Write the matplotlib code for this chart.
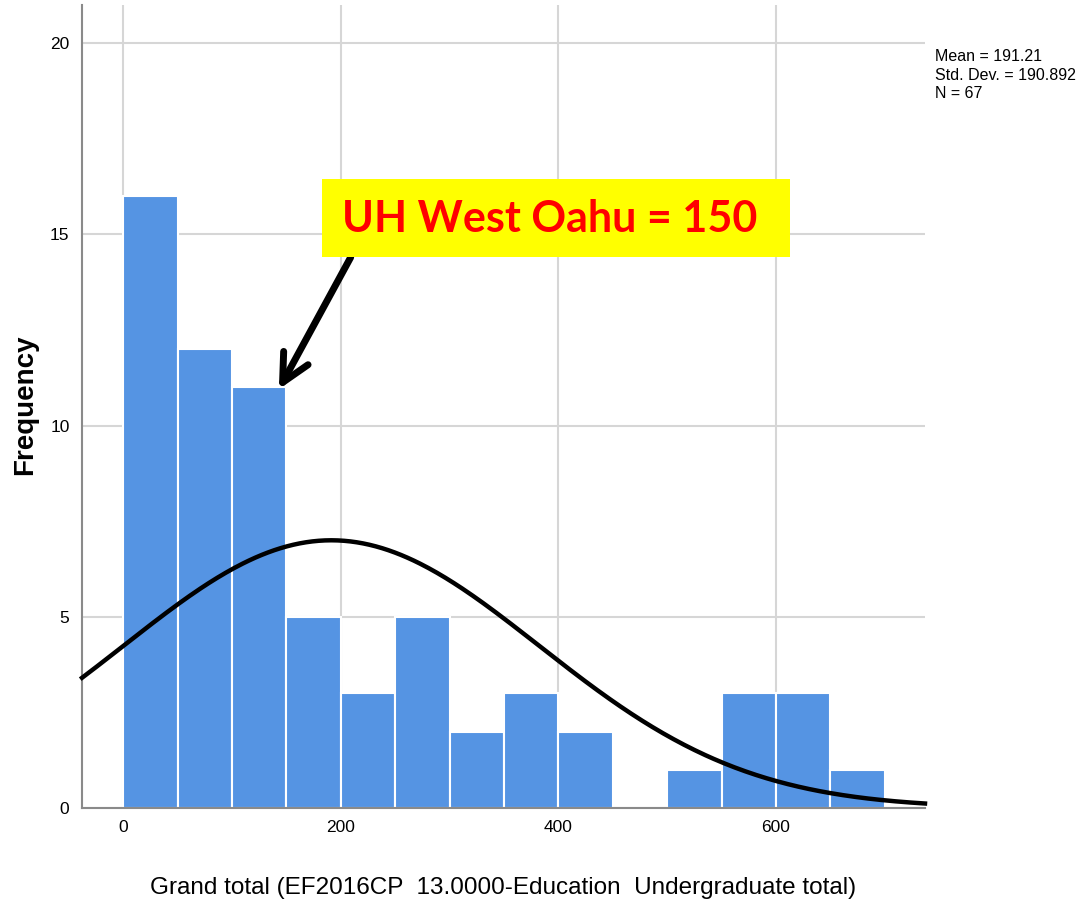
import numpy as np
import matplotlib
matplotlib.use('Agg')
from matplotlib import pyplot as plt

# histogram data (bins of width 50)
bin_edges = [0, 50, 100, 150, 200, 250, 300, 350, 400, 450, 500, 550, 600, 650, 700]
counts = [16, 12, 11, 5, 3, 5, 2, 3, 2, 0, 1, 3, 3, 1]
mean = 191.21
std = 190.892
n = 67
bin_width = 50

x_ticks = [0, 200, 400, 600]
y_ticks = [0, 5, 10, 15, 20]

plt.rcParams['font.family'] = ['Liberation Sans', 'DejaVu Sans']

fig = plt.figure(figsize=(10.76, 9.09), dpi=100)
ax = fig.add_axes([82/1076, 1-808/909, (925-82)/1076, (808-5)/909])

ax.bar(bin_edges[:-1], counts, width=bin_width, align='edge',
       color='#5594E3', edgecolor='white', linewidth=1.5, zorder=2)

# normal curve scaled to counts
xs = np.linspace(-38, 737, 400)
ys = n * bin_width / (std * np.sqrt(2*np.pi)) * np.exp(-0.5*((xs-mean)/std)**2)
ax.plot(xs, ys, color='black', linewidth=3.2, zorder=3, clip_on=False)

ax.set_xlim(-38, 737)
ax.set_ylim(0, 21)
ax.set_xticks(x_ticks)
ax.set_yticks(y_ticks)
ax.grid(True, color='#d6d6d6', linewidth=1.5, zorder=0)
ax.set_axisbelow(True)
ax.tick_params(length=0, labelsize=12.5, pad=9)
for s in ['top', 'right']:
    ax.spines[s].set_visible(False)
for s in ['left', 'bottom']:
    ax.spines[s].set_color('#8a8a8a')
    ax.spines[s].set_linewidth(1.5)

ax.set_xlabel('Grand total (EF2016CP  13.0000-Education  Undergraduate total)',
              fontsize=17.5, labelpad=30)
fig.text(25/1076, 1-405/909, 'Frequency', fontsize=20, fontweight='bold',
         rotation=90, ha='center', va='center')

fig.text(935/1076, 1-49/909, 'Mean = 191.21\nStd. Dev. = 190.892\nN = 67',
         fontsize=11.5, va='top', ha='left', linespacing=1.3)

# annotation box and arrow
fig.patches.append(plt.Rectangle((322/1076, 1-257/909), (790-322)/1076, (257-179)/909,
                                 transform=fig.transFigure, facecolor='#FFFF00',
                                 edgecolor='none', zorder=5))
fig.text(550/1076, 1-219/909, 'UH West Oahu = 150', fontsize=31, fontweight='bold',
         color='#FF0000', family=['Lato', 'DejaVu Sans'], ha='center', va='center', zorder=6)
ax.annotate('', xy=(143, 10.95), xytext=(209, 14.4),
            arrowprops=dict(arrowstyle='->,head_length=2.0,head_width=1.0',
                            color='black', lw=5, shrinkA=0, shrinkB=0), zorder=6)

plt.savefig('out.png', dpi=100)
